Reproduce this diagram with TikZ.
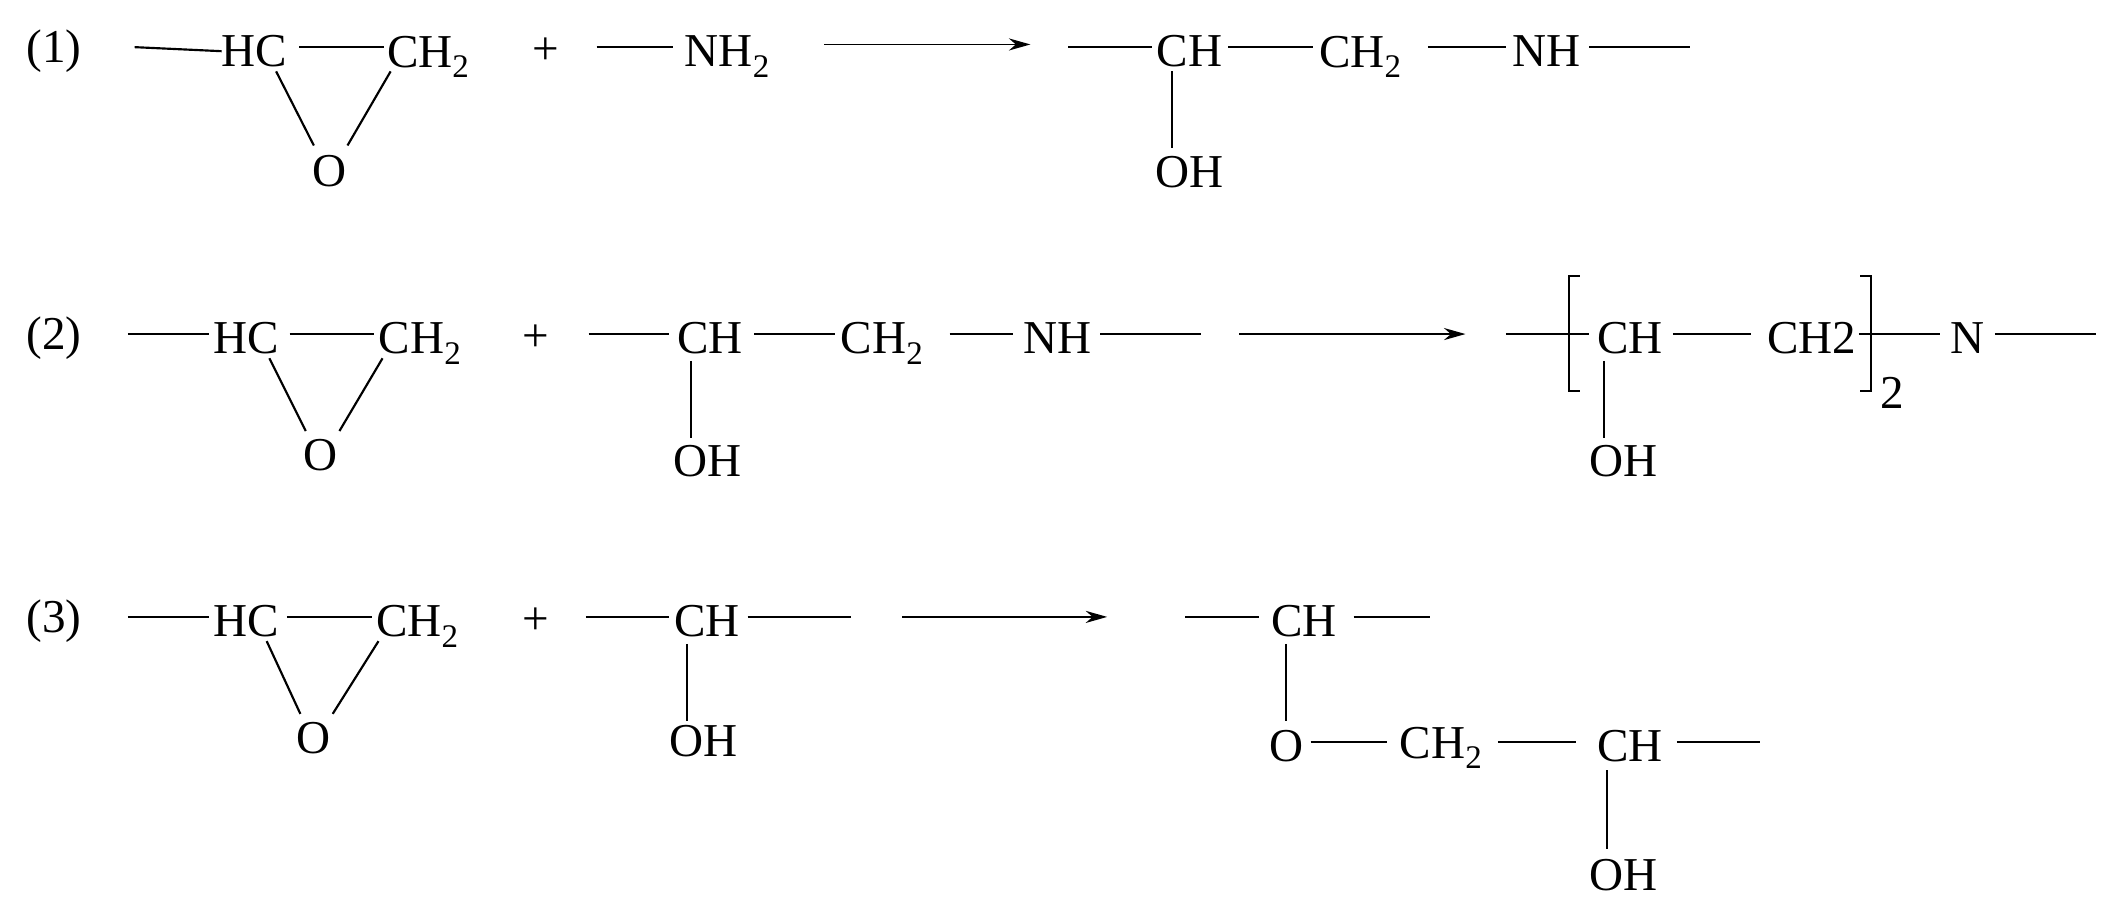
\documentclass[tikz,border=0pt]{standalone}
\usepackage{fontspec}
\setmainfont{Liberation Serif}
\usetikzlibrary{arrows.meta}
\begin{document}
\begin{tikzpicture}[x=1pt,y=-1pt,
  t/.style={font=\fontsize{35}{40}\selectfont,inner sep=0pt,anchor=center},
  bond/.style={line width=1.6pt},
  rxn/.style={line width=1.2pt,-{Stealth[length=16pt,width=9pt]}}]
\useasboundingbox (0,0) rectangle (1568,673);
\newcommand{\sub}{\textsubscript{2}}
% ---------- Row 1
\node[t] (n1) at (40,38) {(1)};
\node[t] (hc1) at (189,38) {HC};
\node[t] (ch2a1) at (318,42) {CH\sub};
\node[t] (o1) at (245,127) {O};
\coordinate (a1) at (100,35);
\draw[bond] (a1) -- (hc1.west);
\draw[bond] (hc1.east) ++(4,-3) coordinate (b1);
\draw[bond] (222,35) -- (285,35);
\draw[bond] (205,53) -- (233,108);
\draw[bond] (290,53) -- (258,108);
\node[t] (p1) at (405,38) {+};
\node[t] (nh2) at (540,42) {NH\sub};
\draw[bond] (443,35) -- (500,35);
\coordinate (r1s) at (612,33); \coordinate (r1e) at (765,33);
\draw[rxn] (r1s) -- (r1e);
\node[t] (ch1) at (883,38) {CH};
\node[t] (ch2b1) at (1010,42) {CH\sub};
\node[t] (nh1) at (1148,38) {NH};
\node[t] (oh1) at (883,128) {OH};
\draw[bond] (793,35) -- (855,35);
\draw[bond] (912,35) -- (975,35);
\draw[bond] (1060,35) -- (1118,35);
\draw[bond] (1180,35) -- (1255,35);
\draw[bond] (870,53) -- (870,110);
% ---------- Row 2
\node[t] (n2) at (40,251) {(2)};
\node[t] (hc2) at (183,251) {HC};
\node[t] (ch2a2) at (312,255) {CH\sub};
\node[t] (o2) at (238,338) {O};
\draw[bond] (95,248) -- (155,248);
\draw[bond] (215,248) -- (278,248);
\draw[bond] (200,266) -- (227,320);
\draw[bond] (284,266) -- (252,320);
\node[t] (p2) at (398,251) {+};
\node[t] (ch2) at (527,251) {CH};
\node[t] (ch2b2) at (655,255) {CH\sub};
\node[t] (nh2b) at (785,251) {NH};
\node[t] (oh2) at (525,342) {OH};
\draw[bond] (437,248) -- (497,248);
\draw[bond] (560,248) -- (620,248);
\draw[bond] (705,248) -- (752,248);
\draw[bond] (817,248) -- (892,248);
\draw[bond] (513,268) -- (513,325);
\draw[rxn] (920,248) -- (1088,248);
\draw[bond] (1118,248) -- (1180,248);
\draw[bond] (1173,205) -- (1165,205) -- (1165,290) -- (1173,290);
\node[t] (ch3) at (1210,251) {CH};
\node[t] (ch2c) at (1345,251) {CH2};
\draw[bond] (1242,248) -- (1300,248);
\draw[bond] (1381,205) -- (1389,205) -- (1389,290) -- (1381,290);
\node[t] (two) at (1405,292) {2};
\draw[bond] (1380,248) -- (1440,248);
\node[t] (N) at (1461,251) {N};
\draw[bond] (1481,248) -- (1556,248);
\node[t] (oh3) at (1205,342) {OH};
\draw[bond] (1191,268) -- (1191,325);
% ---------- Row 3
\node[t] (n3) at (40,461) {(3)};
\node[t] (hc3) at (183,461) {HC};
\node[t] (ch2a3) at (310,465) {CH\sub};
\node[t] (o3) at (233,548) {O};
\draw[bond] (95,458) -- (155,458);
\draw[bond] (213,458) -- (276,458);
\draw[bond] (198,476) -- (223,530);
\draw[bond] (281,476) -- (247,530);
\node[t] (p3) at (398,461) {+};
\node[t] (ch4) at (525,461) {CH};
\node[t] (oh4) at (522,550) {OH};
\draw[bond] (435,458) -- (497,458);
\draw[bond] (555,458) -- (632,458);
\draw[bond] (510,478) -- (510,535);
\draw[rxn] (670,458) -- (822,458);
\node[t] (ch5) at (968,461) {CH};
\draw[bond] (880,458) -- (935,458);
\draw[bond] (1005,458) -- (1062,458);
\draw[bond] (955,478) -- (955,535);
\node[t] (o5) at (955,554) {O};
\draw[bond] (973,551) -- (1030,551);
\node[t] (ch2d) at (1070,555) {CH\sub};
\draw[bond] (1112,551) -- (1170,551);
\node[t] (ch6) at (1210,554) {CH};
\draw[bond] (1245,551) -- (1307,551);
\draw[bond] (1193,572) -- (1193,630);
\node[t] (oh6) at (1205,650) {OH};
\end{tikzpicture}
\end{document}
